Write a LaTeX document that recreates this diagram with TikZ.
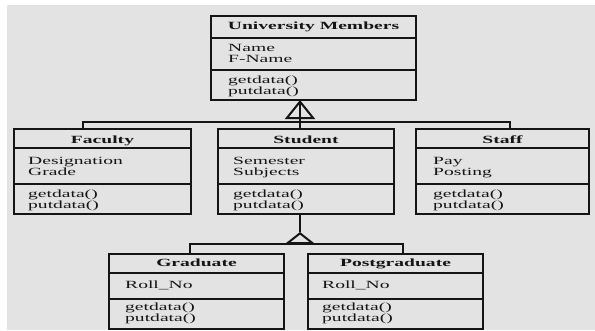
\documentclass[tikz,border=0pt]{standalone}
\usepackage{fontspec}
\setmainfont{Liberation Serif}[FakeStretch=1.78]
\usetikzlibrary{arrows.meta}
\definecolor{paper}{HTML}{E3E3E3}
\definecolor{ink}{HTML}{151515}
\tikzset{
  classbox/.style={draw=ink, line width=2bp, anchor=north west, inner sep=0pt},
  classtitle/.style={font=\fontsize{11bp}{11bp}\selectfont\bfseries, text=ink, anchor=base, inner sep=0pt},
  members/.style={font=\fontsize{11bp}{11bp}\selectfont, text=ink, align=left, anchor=base west, inner sep=0pt},
  sep/.style={draw=ink, line width=1.6bp},
  link/.style={draw=ink, line width=2bp},
  gen/.style={-{Triangle[open,width=30bp,length=#1]}}
}
\begin{document}
\begin{tikzpicture}[x=1bp,y=-1bp]
\useasboundingbox (0,0) rectangle (595,330);
\fill[paper] (7,5) rectangle (595,330);
% class boxes
\node[classbox, minimum width=205bp, minimum height=84bp] (member) at (210,15) {};
\node[classbox, minimum width=177bp, minimum height=85bp] (faculty) at (13,128) {};
\node[classbox, minimum width=176bp, minimum height=85bp] (student) at (217,128) {};
\node[classbox, minimum width=173bp, minimum height=85bp] (staff) at (415,128) {};
\node[classbox, minimum width=175bp, minimum height=75bp] (graduate) at (108,253) {};
\node[classbox, minimum width=175bp, minimum height=75bp] (postgrad) at (307,253) {};
% compartments
\draw[sep] (member.west |- 0,38) -- (member.east |- 0,38) (member.west |- 0,70) -- (member.east |- 0,70);
\foreach \c in {faculty,student,staff}
  \draw[sep] (\c.west |- 0,148) -- (\c.east |- 0,148) (\c.west |- 0,184) -- (\c.east |- 0,184);
\foreach \c in {graduate,postgrad}
  \draw[sep] (\c.west |- 0,273) -- (\c.east |- 0,273) (\c.west |- 0,299) -- (\c.east |- 0,299);
% texts (base of a two-line node is its last line)
\node[classtitle] (member-name) at (member.north |- 0,29) {University Members};
\node[members] (member-attr) at ([xshift=18bp]member.west |- 0,62) {Name\\F-Name};
\node[members] (member-ops) at ([xshift=18bp]member.west |- 0,94) {getdata()\\putdata()};
\node[classtitle] (faculty-name) at (faculty.north |- 0,143) {Faculty};
\node[members] (faculty-attr) at ([xshift=15bp]faculty.west |- 0,175) {Designation\\Grade};
\node[members] (faculty-ops) at ([xshift=15bp]faculty.west |- 0,208) {getdata()\\putdata()};
\node[classtitle] (student-name) at (student.north |- 0,143) {Student};
\node[members] (student-attr) at ([xshift=16bp]student.west |- 0,175) {Semester\\Subjects};
\node[members] (student-ops) at ([xshift=16bp]student.west |- 0,208) {getdata()\\putdata()};
\node[classtitle] (staff-name) at (staff.north |- 0,143) {Staff};
\node[members] (staff-attr) at ([xshift=18bp]staff.west |- 0,175) {Pay\\Posting};
\node[members] (staff-ops) at ([xshift=18bp]staff.west |- 0,208) {getdata()\\putdata()};
\node[classtitle] (graduate-name) at (graduate.north |- 0,266) {Graduate};
\node[members] (graduate-attr) at ([xshift=17bp]graduate.west |- 0,288) {Roll\_No};
\node[members] (graduate-ops) at ([xshift=17bp]graduate.west |- 0,321) {getdata()\\putdata()};
\node[classtitle] (postgrad-name) at (postgrad.north |- 0,266) {Postgraduate};
\node[members] (postgrad-attr) at ([xshift=15bp]postgrad.west |- 0,288) {Roll\_No};
\node[members] (postgrad-ops) at ([xshift=15bp]postgrad.west |- 0,321) {getdata()\\putdata()};
% inheritance
\coordinate (top-tip) at (300,100); \coordinate (top-bus) at (300,122);
\draw[link] (student.north -| top-tip) -- (top-tip);
\draw[link, gen=19bp] (top-bus) -- (top-tip);
\draw[link] (faculty.north -| 83,0) |- (top-bus) -| (staff.north -| 510,0);
\coordinate (low-tip) at (300,232); \coordinate (low-bus) at (300,244);
\draw[link] (student.south -| low-tip) -- (low-tip);
\draw[link, gen=12bp] (low-bus) -- (low-tip);
\draw[link] (graduate.north -| 190,0) |- (low-bus) -| (postgrad.north -| 403,0);
\end{tikzpicture}
\end{document}
